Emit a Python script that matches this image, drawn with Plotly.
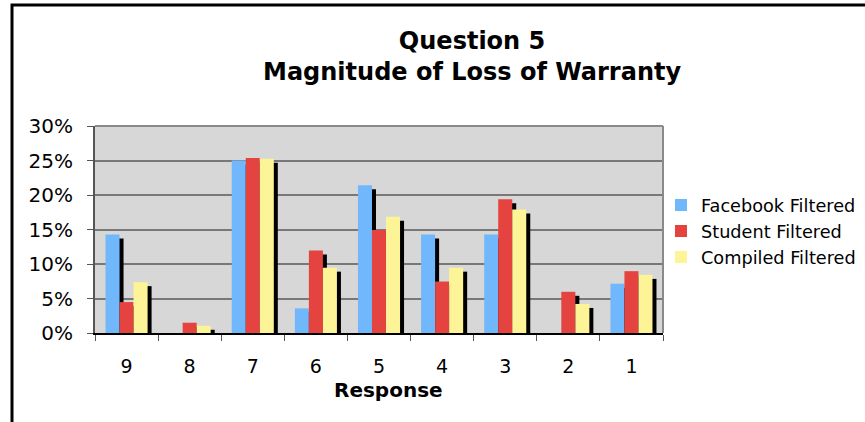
import plotly.graph_objects as go

categories = ["9", "8", "7", "6", "5", "4", "3", "2", "1"]
facebook = [14.29, 0.0, 25.0, 3.57, 21.43, 14.29, 14.29, 0.0, 7.14]
student = [4.48, 1.49, 25.37, 11.94, 14.93, 7.46, 19.40, 5.97, 8.96]
compiled = [7.37, 1.05, 25.26, 9.47, 16.84, 9.47, 17.89, 4.21, 8.42]
series_names = ["Facebook Filtered", "Student Filtered", "Compiled Filtered"]
colors = ["#70b8fb", "#e4433f", "#fdf397"]
y_ticks = [0, 5, 10, 15, 20, 25, 30]

W, H = 865, 422
L, T = 95, 126
pw, ph = 568, 207
R, B = W - L - pw, H - T - ph


def px(sx):
    return (sx - L) / pw


def py(sy):
    return (T + ph - sy) / ph


bar_w = 1 / 4.5
shadow_dx = 4 / (pw / len(categories))
shadow_dy = 4 / (ph / 30)

fig = go.Figure()
all_series = [facebook, student, compiled]
offsets = [-1.5 * bar_w, -0.5 * bar_w, 0.5 * bar_w]

for vals, off in zip(all_series, offsets):
    sh = [max(0.0, v - shadow_dy) if v > 0 else 0 for v in vals]
    fig.add_trace(go.Bar(x=categories, y=sh, width=bar_w, offset=off + shadow_dx,
                         marker=dict(color="black", line=dict(width=0)),
                         showlegend=False, hoverinfo="skip"))
for vals, off, name, col in zip(all_series, offsets, series_names, colors):
    fig.add_trace(go.Bar(x=categories, y=vals, width=bar_w, offset=off, name=name,
                         marker=dict(color=col, line=dict(width=0))))

fig.update_layout(
    width=W, height=H,
    margin=dict(l=L, r=R, t=T, b=B, pad=0, autoexpand=False),
    barmode="overlay",
    paper_bgcolor="white",
    plot_bgcolor="#d7d7d7",
    font=dict(family="DejaVu Sans", color="black", size=19),
    showlegend=True,
    legend=dict(x=px(661), y=py(187), xanchor="left", yanchor="top",
                font=dict(size=17.7), bgcolor="rgba(0,0,0,0)", borderwidth=0),
    annotations=[
        dict(text="<b>Question 5</b><br><b>Magnitude of Loss of Warranty</b>",
             x=px(472), y=py(56), xref="paper", yref="paper",
             showarrow=False, font=dict(size=24), xanchor="center", yanchor="middle"),
        dict(text="<b>Response</b>", x=px(388), y=py(390), xref="paper", yref="paper",
             showarrow=False, font=dict(size=20), xanchor="center", yanchor="middle"),
    ],
    shapes=[
        dict(type="rect", xref="paper", yref="paper",
             x0=px(12), x1=px(900), y0=py(5), y1=py(470),
             line=dict(color="black", width=3), fillcolor="rgba(0,0,0,0)", layer="above"),
        dict(type="line", xref="paper", yref="paper", x0=0, x1=1, y0=1, y1=1,
             line=dict(color="#8a8a8a", width=2), layer="above"),
        dict(type="line", xref="paper", yref="paper", x0=1, x1=1, y0=0, y1=1,
             line=dict(color="#8a8a8a", width=2), layer="above"),
    ],
)

fig.update_xaxes(type="category", categoryorder="array", categoryarray=categories,
                 range=[-0.5, len(categories) - 0.5],
                 tickson="boundaries", ticks="outside", ticklen=6, tickcolor="#555",
                 showline=True, linecolor="black", linewidth=2,
                 showgrid=False, ticklabelstandoff=15)
fig.update_yaxes(range=[0, 30], tickvals=y_ticks, ticktext=[f"{v}%" for v in y_ticks],
                 ticks="outside", ticklen=6, tickcolor="#555",
                 showline=True, linecolor="#555", linewidth=2,
                 showgrid=True, gridcolor="#787878", gridwidth=2,
                 ticklabelstandoff=10, zeroline=False, tickfont=dict(size=20))

fig.write_html("out.html", config={"displayModeBar": False},
               post_script="document.body.style.margin='0px';")
